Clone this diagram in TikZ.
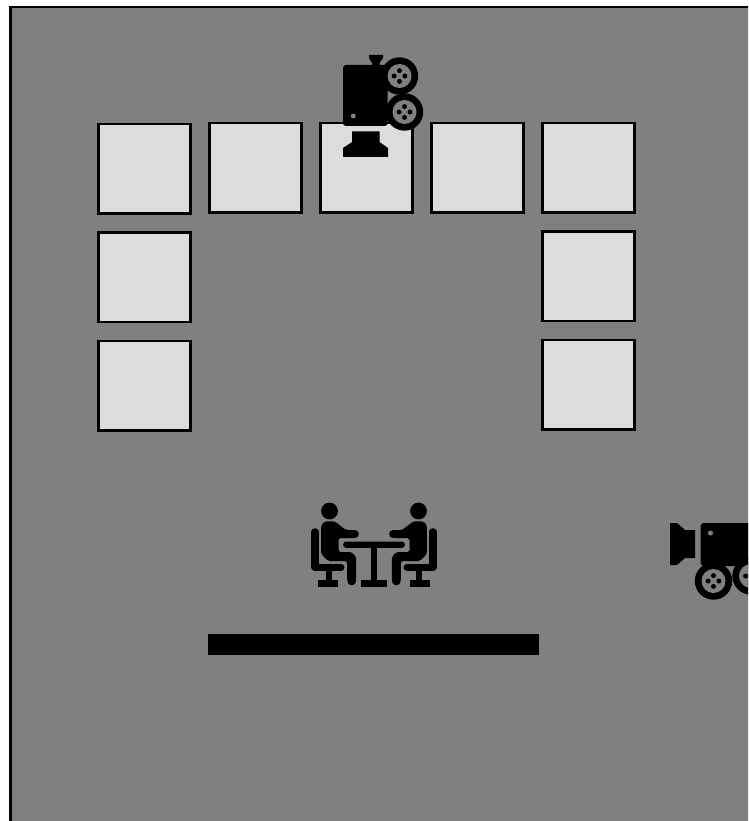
\documentclass[tikz,border=0pt]{standalone}
\usetikzlibrary{positioning}
\definecolor{canvasgray}{RGB}{128, 128, 128}
\definecolor{tilegray}{RGB}{220, 220, 220}
\tikzset{
    tile/.style={
        rectangle, inner sep=0pt, outer sep=0pt,
        minimum width=2.76cm, minimum height=2.69cm,
        draw=black, fill=tilegray, line width=2.1pt
    },
    barbox/.style={
        rectangle, inner sep=0pt, outer sep=0pt,
        minimum width=9.92cm, minimum height=0.62cm,
        fill=black
    },
    reel/.pic={
        \fill[black] (0,0) circle (18.7);
        \fill[canvasgray] (0,0) circle (12);
        \foreach \a in {0,90,180,270}
            \fill[black] (\a:5.4) circle (2.5);
    },
    sitter/.pic={
        \fill[black] (-44.5,21) circle (8.4);
        \fill[black, rounded corners=1.5pt] (-52.8,35) -- (-49.2,31.4) -- (-39.2,31.4) -- (-28.2,40) -- (-19.2,40) -- (-19.2,48) -- (-35.5,48) -- (-35.5,62) -- (-22.5,62) -- (-17.9,66.7) -- (-17.9,91) -- (-26.8,91) -- (-26.8,71) -- (-45.8,71) -- (-52.8,64) -- cycle;
        \fill[black] (-19.2,44) circle (4);
        \fill[black] (-22.3,91) circle (4.4);
        \draw[black, line width=6pt, line cap=round, line join=round] (-59,41.7) -- (-59,77.2) -- (-33,77.2);
        \fill[black] (-47.8,77) rectangle (-42.2,90);
        \fill[black] (-55.8,90) rectangle (-36.2,96.5);
    }
}

\begin{document}
\begin{tikzpicture}[x=0.03cm, y=-0.03cm]
    \useasboundingbox (0,0) rectangle (748,821);
    \clip (0,0) rectangle (748,821);

    % Room
    \fill[white] (0,0) rectangle (748,821);
    \draw[fill=canvasgray, line width=2.1pt] (10.7,7.2) rectangle (760,835);

    % Wall tiles
    \node[tile] (top1) at (144.7,168.6) {};
    \node[tile] (top2) at (255.6,167.6) {};
    \node[tile, right=0.57cm of top2] (top3) {};
    \node[tile, right=0.57cm of top3] (top4) {};
    \node[tile, right=0.57cm of top4] (top5) {};
    \node[tile, below=0.565cm of top1] (left1) {};
    \node[tile, below=0.565cm of left1] (left2) {};
    \node[tile, below=0.565cm of top5] (right1) {};
    \node[tile, below=0.565cm of right1] (right2) {};

    % Overhead camera
    \fill[black, rounded corners=2.5pt] (343,65) rectangle (387.7,126);
    \fill[black] (369,55) -- (383,55) -- (383,58) -- (379.5,63) -- (379.5,66) -- (372,66) -- (372,63) -- (369,58) -- cycle;
    \fill[canvasgray] (353.3,116) circle (2.5);
    \fill[black] (352,131.5) -- (379.5,131.5) -- (379.5,142) -- (388,148) -- (388,157) -- (343,157) -- (343,148) -- (352,142) -- cycle;
    \pic (reela) at (399.5,76) {reel};
    \pic (reelb) at (404.5,112) {reel};

    % People at the table
    \begin{scope}[shift={(374,490)}]
        \pic (sitterl) {sitter};
        \pic[xscale=-1] (sitterr) {sitter};
        \fill[black, rounded corners=2.5pt] (-30.8,51.5) rectangle (30.8,57.9);
        \fill[black] (-3.4,57) rectangle (3.4,90);
        \fill[black] (-13.2,90) rectangle (13.2,96.5);
    \end{scope}

    % Bar
    \node[barbox] (bar) at (373.6,644.5) {};

    % Side camera
    \fill[black, rounded corners=2.5pt] (700.7,523) rectangle (770,566);
    \fill[black] (670,523) -- (677,523) -- (685,530) -- (695,530) -- (695,558) -- (685,558) -- (677,565) -- (670,565) -- cycle;
    \fill[canvasgray] (710.5,533) circle (2.5);
    \pic (reelc) at (713.5,581) {reel};
    \pic (reeld) at (751,576) {reel};
\end{tikzpicture}
\end{document}
